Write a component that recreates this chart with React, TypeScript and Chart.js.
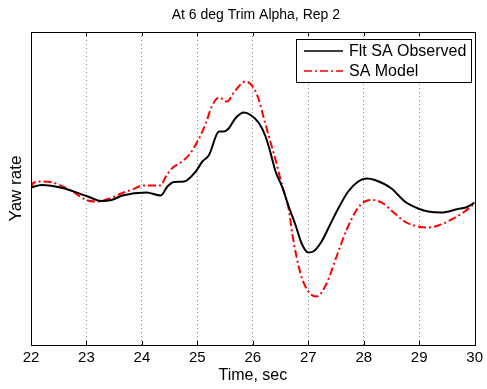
import React, { useEffect, useRef } from "react";
import { Chart, registerables } from "chart.js";

Chart.register(...registerables);

const titleText = "At 6 deg Trim Alpha, Rep 2";
const xLabel = "Time, sec";
const yLabel = "Yaw rate";
const seriesNames = ["Flt SA Observed", "SA Model"];
const xTicks = [22, 23, 24, 25, 26, 27, 28, 29, 30];

const obsT = [22.0, 22.19, 22.57, 23.0, 23.27, 23.45, 23.65, 24.08, 24.34, 24.46, 24.58, 24.76, 24.97, 25.09, 25.21, 25.39, 25.48, 25.57, 25.69, 25.84, 25.96, 26.11, 26.23, 26.32, 26.41, 26.53, 26.65, 26.77, 26.88, 27.0, 27.09, 27.24, 27.39, 27.54, 27.72, 27.9, 28.05, 28.2, 28.5, 28.74, 28.98, 29.16, 29.4, 29.7, 29.84, 30.0];
const obsV = [0.01, 0.035, 0.005, -0.075, -0.125, -0.115, -0.07, -0.04, -0.07, 0.02, 0.065, 0.07, 0.17, 0.27, 0.335, 0.57, 0.57, 0.605, 0.705, 0.76, 0.735, 0.655, 0.52, 0.355, 0.17, 0.015, -0.185, -0.365, -0.55, -0.64, -0.63, -0.53, -0.365, -0.2, -0.03, 0.07, 0.1, 0.085, 0.0, -0.13, -0.2, -0.23, -0.24, -0.205, -0.19, -0.14];

const modT = [22.0, 22.04, 22.19, 22.39, 22.57, 22.75, 23.0, 23.18, 23.42, 23.6, 23.83, 24.01, 24.34, 24.43, 24.55, 24.67, 24.85, 25.03, 25.15, 25.26, 25.39, 25.53, 25.69, 25.87, 26.02, 26.11, 26.2, 26.29, 26.41, 26.53, 26.65, 26.71, 26.86, 27.0, 27.15, 27.33, 27.51, 27.69, 27.87, 28.02, 28.17, 28.35, 28.56, 28.77, 28.98, 29.16, 29.37, 29.58, 29.82, 30.0];
const modV = [0.005, 0.055, 0.07, 0.06, 0.02, -0.03, -0.115, -0.13, -0.1, -0.055, -0.01, 0.03, 0.03, 0.12, 0.205, 0.25, 0.335, 0.5, 0.65, 0.82, 0.91, 0.87, 0.985, 1.07, 1.0, 0.885, 0.7, 0.52, 0.285, 0.025, -0.215, -0.45, -0.85, -1.03, -1.08, -0.95, -0.68, -0.415, -0.215, -0.13, -0.115, -0.15, -0.25, -0.34, -0.38, -0.39, -0.365, -0.31, -0.23, -0.15];

const FONT = "'Liberation Sans', Arial, Helvetica, sans-serif";
const RED_DASH = [8, 3, 2, 3];

const framePlugin = {
  id: "matlabFrame",
  afterDraw(chart: any) {
    const ctx = chart.ctx;
    const a = chart.chartArea;
    const xs = chart.scales.x;
    ctx.save();
    ctx.strokeStyle = "#000";
    ctx.lineWidth = 1;
    ctx.setLineDash([]);
    ctx.strokeRect(Math.round(a.left) + 0.5, Math.round(a.top) + 0.5, Math.round(a.right - a.left), Math.round(a.bottom - a.top));
    for (const t of xTicks) {
      const px = Math.round(xs.getPixelForValue(t)) + 0.5;
      ctx.beginPath();
      ctx.moveTo(px, a.top);
      ctx.lineTo(px, a.top + 4);
      ctx.moveTo(px, a.bottom);
      ctx.lineTo(px, a.bottom - 4);
      ctx.stroke();
    }
    ctx.fillStyle = "#000";
    ctx.font = `14px ${FONT}`;
    ctx.textAlign = "center";
    ctx.textBaseline = "middle";
    ctx.fillText(titleText, (a.left + a.right) / 2 + 3, 15);
    const lx = 296.5, ly = 39.5, lw = 175, lh = 43;
    ctx.fillStyle = "#fff";
    ctx.fillRect(lx, ly, lw, lh);
    ctx.strokeStyle = "#000";
    ctx.lineWidth = 1;
    ctx.strokeRect(lx, ly, lw, lh);
    const rows = [
      { y: 51, color: "#000", dash: [] as number[] },
      { y: 71, color: "#ff0000", dash: RED_DASH },
    ];
    rows.forEach((r, i) => {
      ctx.beginPath();
      ctx.strokeStyle = r.color;
      ctx.lineWidth = 1.5;
      ctx.setLineDash(r.dash);
      ctx.moveTo(304, r.y);
      ctx.lineTo(343, r.y);
      ctx.stroke();
      ctx.setLineDash([]);
      ctx.fillStyle = "#000";
      ctx.font = `16px ${FONT}`;
      ctx.textAlign = "left";
      ctx.textBaseline = "middle";
      ctx.fillText(seriesNames[i], 349, r.y + 1);
    });
    ctx.restore();
  },
};

export default function App() {
  const ref = useRef<HTMLCanvasElement | null>(null);
  useEffect(() => {
    if (!ref.current) return;
    const chart = new Chart(ref.current, {
      type: "line",
      data: {
        datasets: [
          {
            label: seriesNames[0],
            data: obsT.map((t, i) => ({ x: t, y: obsV[i] })),
            borderColor: "#000",
            borderWidth: 2,
            pointRadius: 0,
            cubicInterpolationMode: "monotone",
            fill: false,
          },
          {
            label: seriesNames[1],
            data: modT.map((t, i) => ({ x: t, y: modV[i] })),
            borderColor: "#ff0000",
            borderWidth: 2,
            borderDash: RED_DASH,
            pointRadius: 0,
            cubicInterpolationMode: "monotone",
            fill: false,
          },
        ],
      },
      options: {
        responsive: false,
        animation: false,
        events: [],
        layout: { padding: { top: 32, right: 10, left: 0, bottom: 0 } },
        plugins: {
          legend: { display: false },
          title: { display: false },
          tooltip: { enabled: false },
        },
        scales: {
          x: {
            type: "linear",
            min: 22,
            max: 30,
            afterBuildTicks: (s: any) => {
              s.ticks = xTicks.map((v) => ({ value: v }));
            },
            afterFit: (s: any) => {
              s.height = 44;
            },
            grid: {
              display: true,
              color: (c: any) => (c.tick && (c.tick.value === 22 || c.tick.value === 30) ? "rgba(0,0,0,0)" : "#888"),
              lineWidth: 1,
              drawTicks: false,
            },
            border: { display: false, dash: [1, 3] },
            ticks: {
              color: "#000",
              font: { family: FONT, size: 15 },
              padding: 4,
              maxRotation: 0,
              autoSkip: false,
            },
            title: {
              display: true,
              text: xLabel,
              color: "#000",
              font: { family: FONT, size: 16 },
              padding: { top: 4, bottom: 4 },
            },
          },
          y: {
            type: "linear",
            min: -1.565,
            max: 1.565,
            afterFit: (s: any) => {
              s.width = 31;
            },
            grid: { display: false, drawTicks: false },
            border: { display: false },
            ticks: { display: false },
            title: {
              display: true,
              text: yLabel,
              color: "#000",
              font: { family: FONT, size: 17 },
              padding: { top: 6, bottom: 0 },
            },
          },
        },
      },
      plugins: [framePlugin],
    });
    return () => chart.destroy();
  }, []);
  return (
    <div style={{ position: "absolute", left: 0, top: 0, width: 487, height: 389, background: "#fff" }}>
      <canvas ref={ref} width={487} height={389} style={{ display: "block" }} />
    </div>
  );
}
